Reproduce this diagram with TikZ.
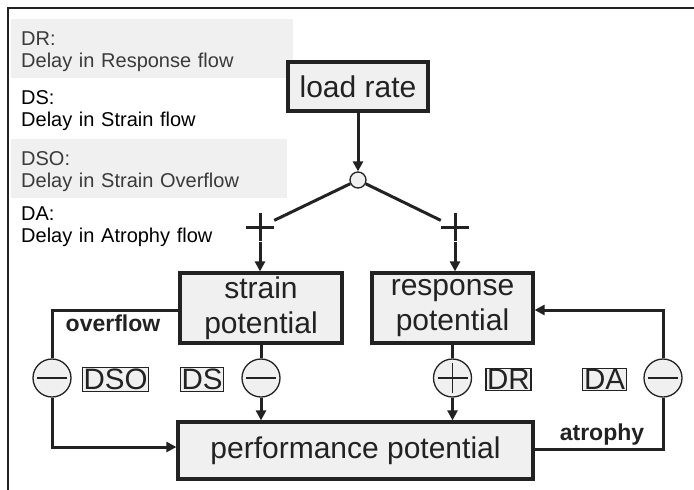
\documentclass[tikz,border=0pt]{standalone}
\usepackage{fontspec}
\setmainfont{Liberation Sans}
\usetikzlibrary{arrows.meta}
\definecolor{boxgray}{HTML}{F0F0F0}
\definecolor{ink}{HTML}{222222}
\definecolor{legink}{HTML}{3A3A3A}
\begin{document}
\begin{tikzpicture}[x=1pt,y=-1pt]
\tikzstyle{every node}=[text=ink];
\tikzstyle{potbox}=[draw=ink,fill=boxgray,line width=3.2pt,font=\fontsize{30}{35}\selectfont,align=center,inner sep=0pt];
\tikzstyle{delaybox}=[draw=ink,fill=boxgray,line width=1.2pt,font=\fontsize{29.5}{29.5}\selectfont,inner sep=1.2pt];
\tikzstyle{legbox}=[fill=boxgray,anchor=north west,minimum width=282pt,minimum height=59pt,inner sep=0pt];
\tikzstyle{legtext}=[anchor=base west,text width=270pt,inner sep=0pt,align=left,font=\fontsize{20}{22.8}\selectfont];
\tikzstyle{flowlabel}=[font=\bfseries\fontsize{23}{23}\selectfont,inner sep=0pt];
\tikzstyle{conn}=[draw=ink,line width=3pt];
\tikzstyle{flow}=[conn,-{Triangle[length=10pt,width=10pt]}];
\tikzstyle{polsign}=[circle,draw=ink,fill=boxgray,line width=1.3pt,minimum size=38pt,inner sep=0pt];
\tikzstyle{negsign}=[polsign,path picture={\draw[ink,line width=1.8pt] ([xshift=4pt]path picture bounding box.west) -- ([xshift=-4pt]path picture bounding box.east);}];
\tikzstyle{possign}=[polsign,path picture={\draw[ink,line width=1.8pt] ([xshift=4pt]path picture bounding box.west) -- ([xshift=-4pt]path picture bounding box.east) ([yshift=4pt]path picture bounding box.south) -- ([yshift=-4pt]path picture bounding box.north);}];
\tikzstyle{linkplus}=[rectangle,minimum size=28pt,inner sep=0pt,path picture={\draw[ink,line width=3pt] (path picture bounding box.west) -- (path picture bounding box.east) (path picture bounding box.south) -- (path picture bounding box.north);}];
\useasboundingbox (0,0) rectangle (694,490);
\draw[ink,line width=1.4pt] (8,490) -- (8,8) -- (694,8); % frame
% legend
\node[legbox] (drbox) at (11,19) {};
\node[legbox,minimum width=276pt] (dsobox) at (11,139) {};
\node[legtext,text=legink] (drtext) at (21,45) {DR:\\Delay in Response flow};
\node[legtext,text=black] (dstext) at (21,104) {DS:\\Delay in Strain flow};
\node[legtext,text=legink] (dsotext) at (21,165) {DSO:\\Delay in Strain Overflow};
\node[legtext,text=black] (datext) at (21,220) {DA:\\Delay in Atrophy flow};
% potentials
\node[potbox,minimum width=140pt,minimum height=49pt] (load) at (358,86.5) {load rate};
\node[circle,draw=ink,fill=boxgray,line width=1.3pt,minimum size=16pt,inner sep=0pt] (junc) at (358,180) {};
\node[linkplus] (lplus) at (260,227) {};
\node[linkplus] (rplus) at (455,227) {};
\node[potbox,minimum width=162pt,minimum height=70pt] (strain) at (261,308) {strain\\potential};
\node[potbox,minimum width=161pt,minimum height=70pt] (resp) at (452.5,308) {response\\potential};
\node[potbox,minimum width=355pt,minimum height=57pt] (perf) at (355.5,450.5) {performance potential};
% delays and signs
\node[negsign] (om) at (52,378) {};
\node[delaybox] (dso) at (115.5,379.5) {DSO};
\node[delaybox] (ds) at (202,379.5) {DS};
\node[negsign] (sm) at (261,378) {};
\node[possign] (rp) at (452.5,378) {};
\node[delaybox] (dr) at (508.5,379.5) {DR};
\node[delaybox] (da) at (604.5,379.5) {DA};
\node[negsign] (am) at (663,378) {};
\node[flowlabel] (ovl) at (113,323) {overflow};
\node[flowlabel] (atl) at (602,435) {atrophy};
\draw[flow] (load) -- (junc);
\draw[conn] (junc) -- (lplus.25);
\draw[conn] (junc) -- (rplus.155);
\draw[flow] ([yshift=-1pt]lplus.south) -- (lplus.south |- strain.north);
\draw[flow] ([yshift=-1pt]rplus.south) -- (rplus.south |- resp.north);
\draw[conn] (strain) -- (sm);
\draw[flow] (sm) -- (sm |- perf.north);
\draw[conn] ([yshift=-2pt]strain.west) -| (om);
\draw[flow] (om) |- ([yshift=3.5pt]perf.west);
\draw[conn] (resp) -- (rp);
\draw[flow] (rp) -- (rp |- perf.north);
\draw[conn] ([yshift=1.5pt]perf.east) -| (am);
\draw[flow] (am) |- ([yshift=-2pt]resp.east);
\end{tikzpicture}
\end{document}
